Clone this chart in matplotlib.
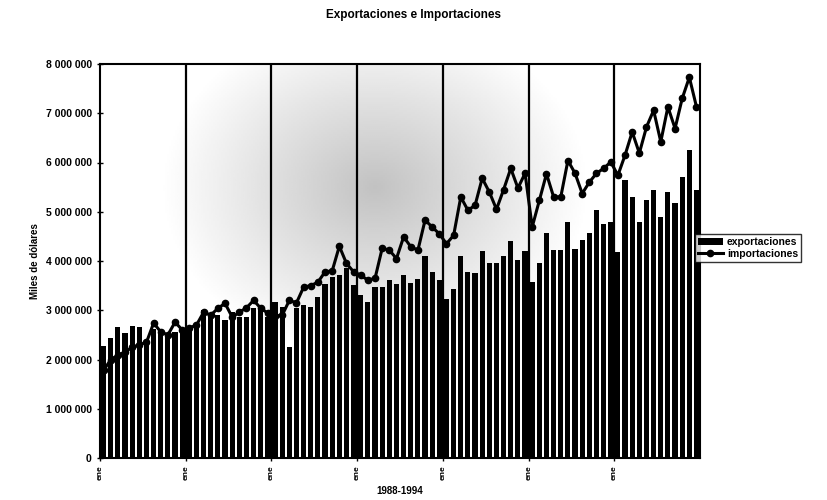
import numpy as np
import matplotlib
matplotlib.use("Agg")
import matplotlib.pyplot as plt
from matplotlib.ticker import FuncFormatter

plt.rcParams['font.family'] = ['Liberation Sans', 'DejaVu Sans']

title = "Exportaciones e Importaciones"
ylabel = "Miles de dólares"
xlabel = "1988-1994"
years = ["1988", "1989", "1990", "1991", "1992", "1993", "1994"]
tick_labels = ["ene", "ene", "ene", "ene", "ene", "ene", "ene"]

# monthly values, millions (scaled by 1e6 below)
exportaciones = [
    2.28, 2.44, 2.66, 2.53, 2.68, 2.65, 2.36, 2.62, 2.56, 2.53, 2.56, 2.58,
    2.60, 2.70, 3.00, 2.87, 2.90, 2.80, 2.97, 2.87, 2.87, 3.04, 3.07, 2.87,
    3.17, 3.07, 2.26, 3.04, 3.10, 3.07, 3.27, 3.54, 3.68, 3.71, 3.85, 3.51,
    3.31, 3.17, 3.47, 3.47, 3.61, 3.54, 3.71, 3.56, 3.63, 4.10, 3.77, 3.61,
    3.22, 3.43, 4.10, 3.78, 3.75, 4.20, 3.95, 3.95, 4.10, 4.40, 4.02, 4.20,
    3.58, 3.95, 4.56, 4.22, 4.22, 4.79, 4.25, 4.42, 4.56, 5.03, 4.76, 4.79,
    4.18, 5.64, 5.30, 4.79, 5.23, 5.44, 4.89, 5.40, 5.17, 5.71, 6.25, 5.44,
]
importaciones = [
    1.78, 2.00, 2.09, 2.15, 2.25, 2.30, 2.35, 2.74, 2.56, 2.50, 2.76, 2.60,
    2.64, 2.70, 2.96, 2.90, 3.04, 3.14, 2.86, 2.96, 3.05, 3.20, 3.04, 2.94,
    2.88, 2.90, 3.20, 3.15, 3.47, 3.50, 3.57, 3.78, 3.80, 4.30, 3.95, 3.78,
    3.71, 3.61, 3.65, 4.26, 4.22, 4.05, 4.49, 4.29, 4.22, 4.83, 4.69, 4.55,
    4.35, 4.52, 5.30, 5.03, 5.13, 5.68, 5.40, 5.05, 5.45, 5.88, 5.48, 5.78,
    4.69, 5.23, 5.77, 5.30, 5.30, 6.04, 5.78, 5.37, 5.60, 5.78, 5.88, 6.01,
    5.74, 6.15, 6.62, 6.19, 6.72, 7.06, 6.42, 7.13, 6.69, 7.30, 7.73, 7.13,
]

exp_v = np.array(exportaciones) * 1e6
imp_v = np.array(importaciones) * 1e6
x = np.arange(len(exp_v))

fig = plt.figure(figsize=(8.27, 5.0), dpi=100)
ax = fig.add_axes([0.121, 0.084, 0.7255, 0.788])

# shaded background (scanned grey plot area)
gx = np.linspace(-0.5, 83.5, 300)
gy = np.linspace(0, 8e6, 200)
GX, GY = np.meshgrid(gx, gy)
d = np.sqrt(((GX - 38) / 30.0) ** 2 + ((GY - 5.5e6) / 3.5e6) ** 2)
shade = np.clip(0.76 + 0.24 * d, 0.76, 1.0)
ax.imshow(shade, extent=[-0.5, 83.5, 0, 8e6], origin='lower', aspect='auto',
          cmap='gray', vmin=0, vmax=1, zorder=0, interpolation='bilinear')

for k in range(1, len(years)):
    ax.axvline(12 * k - 0.5, color='black', lw=1.6, zorder=1)

bars = ax.bar(x, exp_v, width=0.72, color='black', zorder=2, label='exportaciones')
line, = ax.plot(x, imp_v, color='black', lw=2.2, marker='o', ms=4.5, zorder=3,
                label='importaciones')

ax.set_xlim(-0.5, 83.5)
ax.set_ylim(0, 8e6)
ax.set_yticks(np.arange(0, 8e6 + 1, 1e6))
ax.yaxis.set_major_formatter(FuncFormatter(lambda v, p: f"{int(v):,}".replace(",", " ")))
ax.set_xticks([12 * k - 0.5 for k in range(len(years))])
ax.set_xticklabels(tick_labels, rotation=90, fontsize=6, fontweight='bold')
ax.tick_params(axis='y', labelsize=7.5, direction='inout', length=5, width=1)
ax.tick_params(axis='x', direction='inout', length=4, width=1)
for lab in ax.get_yticklabels():
    lab.set_fontweight('bold')
for s in ax.spines.values():
    s.set_linewidth(1.5)

ax.set_ylabel(ylabel, fontsize=7, fontweight='bold', labelpad=4)
ax.set_xlabel(xlabel, fontsize=7, fontweight='bold', labelpad=4)
fig.suptitle(title, x=0.5, y=0.982, fontsize=8.5, fontweight='bold')

leg = fig.legend([bars, line], ['exportaciones', 'importaciones'],
                 loc='center left', bbox_to_anchor=(0.840, 0.504),
                 prop={'weight': 'bold', 'size': 7.5}, frameon=True, fancybox=False,
                 edgecolor='black', borderpad=0.3, labelspacing=0.2,
                 handlelength=2.4, handletextpad=0.4, borderaxespad=0)
leg.get_frame().set_linewidth(1.0)

fig.savefig("out.png", dpi=100)
